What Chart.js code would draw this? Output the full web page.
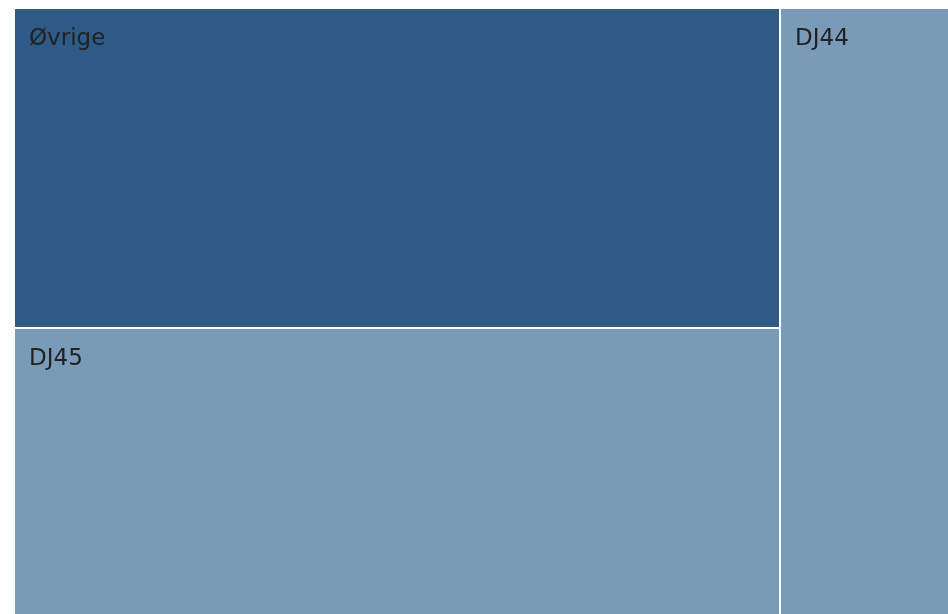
<!DOCTYPE html>
<html lang="no">
<head>
  <meta charset="utf-8">
  <title>treemap</title>
  <style type="text/css">
  html, body { margin: 0; padding: 0; background: #ffffff; }
  #wrap { width: 948px; height: 614px; position: relative; }
  </style>
</head>
<body>

<div id="wrap">
  <canvas id="myChart"></canvas>
</div>

<script src="https://cdn.jsdelivr.net/npm/chart.js"></script>

<script>

  // tile names and their sizes (share of total, %)
  const labels = ['Øvrige', 'DJ45', 'DJ44'];
  const values = [43.2, 38.8, 18.0];

  const tileColors = ['#2d5a87', '#7a9bb8', '#7a9bb8'];
  const PHI = (1 + Math.sqrt(5)) / 2;

  // d3 style squarify (what plotly uses), done in pixel units of the chart area
  function squarify(vals, x0, y0, x1, y1) {
    let value = vals.reduce((a, b) => a + b, 0);
    let i0 = 0, i1 = 0;
    const n = vals.length;
    const out = [];
    while (i0 < n) {
      const dx = x1 - x0, dy = y1 - y0;
      let sum = vals[i1++];
      let minV = sum, maxV = sum;
      const alpha = Math.max(dy / dx, dx / dy) / (value * PHI);
      let beta = sum * sum * alpha;
      let minRatio = Math.max(maxV / beta, beta / minV);
      for (; i1 < n; ++i1) {
        const v = vals[i1];
        sum += v;
        if (v < minV) minV = v;
        if (v > maxV) maxV = v;
        beta = sum * sum * alpha;
        const r = Math.max(maxV / beta, beta / minV);
        if (r > minRatio) { sum -= v; break; }
        minRatio = r;
      }
      if (dx < dy) {
        // row along the top
        const ny = y0 + dy * sum / value;
        let cx = x0;
        for (let k = i0; k < i1; k++) {
          const nx = cx + dx * vals[k] / sum;
          out.push({i: k, x0: cx, y0: y0, x1: nx, y1: ny});
          cx = nx;
        }
        y0 = ny;
      } else {
        // column on the left
        const nx = x0 + dx * sum / value;
        let cy = y0;
        for (let k = i0; k < i1; k++) {
          const ny = cy + dy * vals[k] / sum;
          out.push({i: k, x0: x0, y0: cy, x1: nx, y1: ny});
          cy = ny;
        }
        x0 = nx;
      }
      value -= sum;
      i0 = i1;
    }
    return out;
  }

  const treemapPlugin = {
    id: 'treemap',
    afterDatasetsDraw(chart) {
      const ctx = chart.ctx;
      const ca = chart.chartArea;
      const xs = chart.scales.x, ys = chart.scales.y;
      const W = ca.right - ca.left, H = ca.bottom - ca.top;
      // layout in area units, then scaled to 0..100 data units of both axes
      const rects = squarify(values, 0, 0, W, H);
      ctx.save();
      rects.forEach(r => {
        let px0 = Math.round(xs.getPixelForValue(r.x0 / W * 100));
        let px1 = Math.round(xs.getPixelForValue(r.x1 / W * 100));
        let py0 = Math.round(ys.getPixelForValue(r.y0 / H * 100));
        let py1 = Math.round(ys.getPixelForValue(r.y1 / H * 100));
        // 1px white gap on inner edges only
        const gx0 = (r.x0 > 0.5) ? 1 : 0;
        const gx1 = (r.x1 < W - 0.5) ? 1 : 0;
        const gy0 = (r.y0 > 0.5) ? 1 : 0;
        const gy1 = (r.y1 < H - 0.5) ? 1 : 0;
        ctx.fillStyle = tileColors[r.i];
        ctx.fillRect(px0 + gx0, py0 + gy0,
                     px1 - px0 - gx0 - gx1,
                     py1 - py0 - gy0 - gy1);
        ctx.fillStyle = '#222222';
        ctx.font = '23px "DejaVu Sans"';
        ctx.textBaseline = 'alphabetic';
        ctx.textAlign = 'left';
        ctx.fillText(labels[r.i], px0 + gx0 + 14, py0 + gy0 + 36);
      });
      ctx.restore();
    }
  };

  const ctx = document.getElementById('myChart');

  const our_chart = new Chart(ctx, {
    type: 'scatter',
    data: {
      datasets: [{ label: 'tiles', data: [] }]
    },
    options: {
      responsive: true,
      maintainAspectRatio: false,
      animation: false,
      layout: { padding: { left: 15, top: 9, right: 0, bottom: 0 } },
      plugins: {
        legend: { display: false },
        tooltip: { enabled: false }
      },
      scales: {
        x: { type: 'linear', min: 0, max: 100, display: false },
        y: { type: 'linear', min: 0, max: 100, reverse: true, display: false }
      }
    },
    plugins: [treemapPlugin]
  });

</script>
</body>
</html>
